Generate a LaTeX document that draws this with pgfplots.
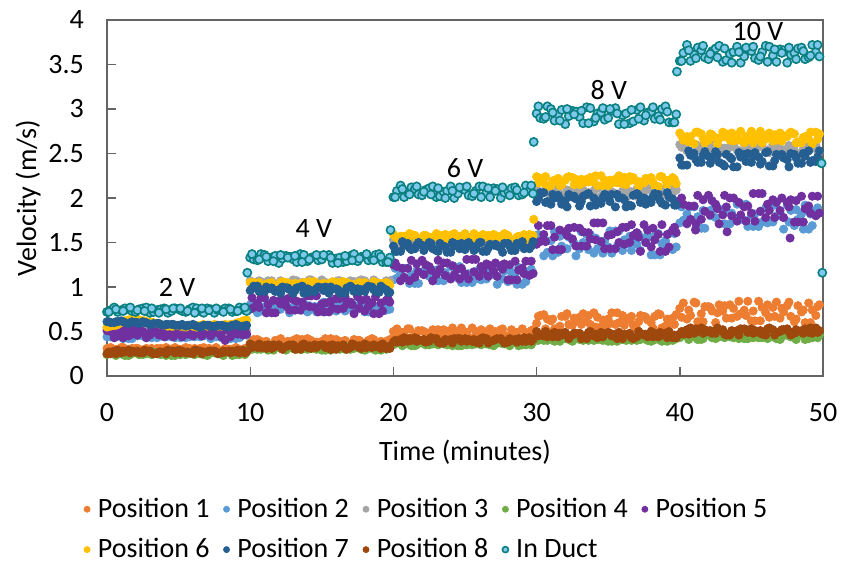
\documentclass[border=0pt]{standalone}
\usepackage{pgfplots}
\usepackage{pgfplotstable}
\pgfplotsset{compat=1.18}
\usepackage{fontspec}
\setmainfont{Carlito}

\definecolor{pone}{RGB}{237,125,49}
\definecolor{ptwo}{RGB}{91,155,213}
\definecolor{pthree}{RGB}{165,165,165}
\definecolor{pfour}{RGB}{112,173,71}
\definecolor{pfive}{RGB}{112,48,160}
\definecolor{psix}{RGB}{255,192,0}
\definecolor{pseven}{RGB}{37,94,145}
\definecolor{peight}{RGB}{158,72,14}
\definecolor{ductedge}{RGB}{10,128,128}
\definecolor{ductfill}{RGB}{125,200,235}
\definecolor{framegray}{RGB}{100,100,100}

\newcommand{\chartfont}{\fontsize{14}{17}\selectfont}

\pgfplotsset{
  dot/.style={only marks, mark=*, mark size=2.05pt, draw=#1, fill=#1},
}

% velocity readings (m/s) at each sensor position
\pgfplotstableread{
t p1 p2 p3 p4 p5 p6 p7 p8 d
0 0.31 0.44 0.54 0.24 0.51 0.55 0.61 0.25 0.72
0.25 0.32 0.44 0.54 0.26 0.50 0.56 0.60 0.25 0.74
0.5 0.29 0.46 0.51 0.27 0.43 0.57 0.60 0.28 0.77
0.75 0.29 0.47 0.49 0.25 0.45 0.58 0.61 0.29 0.72
1 0.32 0.47 0.49 0.25 0.49 0.60 0.62 0.26 0.74
1.25 0.28 0.45 0.53 0.23 0.53 0.62 0.60 0.27 0.76
1.5 0.30 0.42 0.54 0.23 0.45 0.63 0.59 0.29 0.75
1.75 0.31 0.42 0.50 0.26 0.47 0.64 0.61 0.28 0.73
2 0.31 0.46 0.52 0.26 0.53 0.64 0.60 0.27 0.72
2.25 0.30 0.47 0.55 0.24 0.51 0.63 0.59 0.26 0.75
2.5 0.28 0.45 0.54 0.24 0.50 0.62 0.61 0.26 0.76
2.75 0.31 0.43 0.53 0.25 0.43 0.60 0.60 0.28 0.77
3 0.30 0.47 0.50 0.26 0.46 0.61 0.58 0.28 0.71
3.25 0.29 0.46 0.51 0.27 0.49 0.60 0.59 0.25 0.72
3.5 0.31 0.43 0.53 0.25 0.52 0.59 0.59 0.25 0.74
3.75 0.31 0.45 0.54 0.24 0.52 0.58 0.58 0.27 0.75
4 0.29 0.48 0.51 0.27 0.44 0.57 0.57 0.27 0.76
4.25 0.30 0.48 0.50 0.26 0.46 0.56 0.58 0.29 0.71
4.5 0.30 0.44 0.55 0.23 0.49 0.56 0.58 0.28 0.73
4.75 0.32 0.43 0.52 0.23 0.49 0.57 0.57 0.26 0.76
5 0.28 0.45 0.50 0.25 0.47 0.57 0.57 0.29 0.75
5.25 0.28 0.46 0.51 0.27 0.44 0.56 0.58 0.28 0.73
5.5 0.32 0.43 0.53 0.24 0.53 0.55 0.56 0.26 0.72
5.75 0.31 0.44 0.55 0.25 0.53 0.57 0.57 0.26 0.75
6 0.30 0.47 0.51 0.26 0.45 0.56 0.58 0.25 0.77
6.25 0.29 0.47 0.50 0.26 0.48 0.55 0.56 0.29 0.76
6.5 0.31 0.44 0.55 0.25 0.51 0.57 0.55 0.28 0.73
6.75 0.32 0.45 0.54 0.24 0.50 0.58 0.57 0.27 0.71
7 0.29 0.46 0.52 0.23 0.48 0.56 0.57 0.27 0.76
7.25 0.30 0.42 0.52 0.26 0.45 0.57 0.56 0.28 0.75
7.5 0.31 0.48 0.51 0.26 0.50 0.58 0.56 0.28 0.71
7.75 0.29 0.47 0.53 0.25 0.51 0.56 0.57 0.25 0.74
8 0.28 0.43 0.54 0.25 0.44 0.56 0.57 0.26 0.74
8.25 0.31 0.44 0.49 0.26 0.40 0.58 0.56 0.27 0.76
8.5 0.30 0.46 0.49 0.27 0.52 0.57 0.55 0.28 0.76
8.75 0.28 0.48 0.54 0.23 0.48 0.58 0.57 0.28 0.72
9 0.32 0.42 0.53 0.24 0.49 0.59 0.58 0.27 0.73
9.25 0.30 0.43 0.53 0.24 0.52 0.60 0.56 0.26 0.77
9.5 0.29 0.47 0.54 0.26 0.46 0.62 0.56 0.29 0.75
9.75 0.31 0.46 0.51 0.27 0.47 0.63 0.57 0.27 0.73
10 0.37 0.80 1.07 0.32 0.75 1.05 0.96 0.36 1.33
10.25 0.41 0.79 1.04 0.33 0.77 1.05 1.01 0.34 1.31
10.5 0.41 0.71 1.06 0.30 0.82 1.02 1.01 0.32 1.30
10.75 0.39 0.73 1.06 0.30 0.88 1.00 0.96 0.32 1.37
11 0.38 0.78 1.02 0.33 0.88 1.00 0.95 0.34 1.36
11.25 0.34 0.82 1.07 0.29 0.80 1.04 0.98 0.35 1.29
11.5 0.34 0.73 1.07 0.31 0.71 1.05 0.99 0.31 1.33
11.75 0.40 0.76 1.02 0.32 0.71 1.01 0.95 0.33 1.35
12 0.40 0.82 1.04 0.32 0.84 1.03 0.97 0.35 1.27
12.25 0.36 0.80 1.06 0.31 0.86 1.06 1.00 0.30 1.32
12.5 0.36 0.79 1.05 0.29 0.79 1.05 0.99 0.33 1.35
12.75 0.38 0.71 1.05 0.32 0.74 1.04 0.97 0.35 1.34
13 0.40 0.75 1.08 0.31 0.86 1.01 0.93 0.35 1.31
13.25 0.42 0.78 1.07 0.30 0.84 1.02 0.99 0.32 1.28
13.5 0.38 0.81 1.04 0.32 0.74 1.04 1.00 0.30 1.37
13.75 0.36 0.81 1.03 0.32 0.79 1.05 0.93 0.36 1.36
14 0.42 0.72 1.06 0.30 0.90 1.02 0.98 0.32 1.29
14.25 0.40 0.75 1.08 0.31 0.90 1.01 0.96 0.31 1.33
14.5 0.35 0.78 1.03 0.31 0.77 1.06 0.95 0.35 1.34
14.75 0.35 0.78 1.04 0.33 0.72 1.03 1.00 0.34 1.30
15 0.39 0.75 1.08 0.29 0.81 1.01 0.99 0.35 1.31
15.25 0.42 0.72 1.05 0.29 0.82 1.02 1.00 0.32 1.35
15.5 0.36 0.83 1.04 0.33 0.72 1.04 0.93 0.34 1.36
15.75 0.37 0.83 1.03 0.32 0.76 1.06 0.98 0.35 1.27
16 0.41 0.73 1.06 0.31 0.87 1.02 0.98 0.30 1.32
16.25 0.39 0.76 1.07 0.30 0.87 1.01 0.93 0.33 1.33
16.5 0.38 0.81 1.03 0.32 0.76 1.06 0.94 0.35 1.28
16.75 0.36 0.79 1.04 0.33 0.81 1.05 0.99 0.30 1.29
17 0.34 0.76 1.07 0.30 0.83 1.03 1.01 0.32 1.35
17.25 0.41 0.73 1.06 0.31 0.70 1.03 0.95 0.35 1.37
17.5 0.40 0.79 1.05 0.32 0.89 1.02 0.98 0.33 1.29
17.75 0.38 0.81 1.08 0.30 0.85 1.04 0.97 0.31 1.34
18 0.37 0.72 1.07 0.29 0.73 1.05 0.95 0.36 1.34
18.25 0.40 0.72 1.03 0.32 0.78 1.00 1.01 0.34 1.30
18.5 0.42 0.82 1.02 0.31 0.82 1.00 1.00 0.32 1.32
18.75 0.34 0.77 1.06 0.29 0.89 1.05 0.95 0.33 1.36
19 0.35 0.78 1.04 0.33 0.70 1.04 0.94 0.34 1.37
19.25 0.37 0.82 1.02 0.31 0.73 1.04 0.99 0.36 1.28
19.5 0.39 0.74 1.07 0.30 0.85 1.05 0.97 0.31 1.28
19.75 0.41 0.75 1.07 0.32 0.83 1.02 0.94 0.31 1.33
20 0.50 1.08 1.53 0.35 1.25 1.59 1.46 0.38 2.01
20.25 0.53 1.10 1.52 0.37 1.23 1.54 1.40 0.38 2.08
20.5 0.44 1.15 1.49 0.38 1.07 1.57 1.40 0.41 2.14
20.75 0.46 1.21 1.46 0.36 1.11 1.57 1.47 0.43 2.01
21 0.53 1.21 1.46 0.36 1.21 1.52 1.49 0.39 2.06
21.25 0.43 1.13 1.51 0.34 1.30 1.59 1.42 0.40 2.12
21.5 0.47 1.04 1.52 0.34 1.11 1.58 1.43 0.43 2.10
21.75 0.51 1.04 1.47 0.37 1.17 1.52 1.50 0.41 2.04
22 0.51 1.17 1.50 0.37 1.30 1.54 1.47 0.40 2.03
22.25 0.49 1.19 1.54 0.35 1.25 1.58 1.45 0.38 2.09
22.5 0.42 1.12 1.53 0.35 1.23 1.56 1.50 0.39 2.11
22.75 0.52 1.07 1.51 0.36 1.07 1.56 1.43 0.42 2.13
23 0.49 1.19 1.48 0.37 1.14 1.60 1.41 0.42 2.01
23.25 0.44 1.17 1.48 0.38 1.20 1.58 1.49 0.37 2.02
23.5 0.52 1.07 1.51 0.36 1.27 1.54 1.46 0.37 2.07
23.75 0.50 1.12 1.53 0.35 1.27 1.54 1.39 0.40 2.08
24 0.46 1.23 1.49 0.38 1.09 1.58 1.39 0.41 2.13
24.25 0.47 1.23 1.47 0.37 1.14 1.60 1.46 0.42 2.00
24.5 0.49 1.10 1.54 0.34 1.20 1.53 1.48 0.42 2.05
24.75 0.54 1.05 1.50 0.34 1.21 1.55 1.49 0.39 2.11
25 0.43 1.14 1.47 0.36 1.15 1.60 1.42 0.42 2.09
25.25 0.43 1.15 1.49 0.38 1.09 1.56 1.50 0.41 2.03
25.5 0.54 1.05 1.52 0.35 1.31 1.55 1.46 0.39 2.02
25.75 0.50 1.09 1.54 0.36 1.31 1.53 1.43 0.38 2.08
26 0.47 1.20 1.48 0.37 1.12 1.57 1.50 0.37 2.13
26.25 0.45 1.20 1.48 0.37 1.18 1.59 1.40 0.43 2.13
26.5 0.50 1.09 1.54 0.36 1.26 1.54 1.40 0.42 2.06
26.75 0.53 1.14 1.52 0.35 1.24 1.54 1.48 0.39 2.01
27 0.44 1.16 1.50 0.34 1.18 1.59 1.47 0.40 2.11
27.25 0.48 1.03 1.50 0.37 1.12 1.57 1.46 0.42 2.10
27.5 0.52 1.22 1.48 0.37 1.24 1.56 1.44 0.42 2.00
27.75 0.46 1.18 1.52 0.36 1.26 1.60 1.49 0.37 2.06
28 0.43 1.06 1.52 0.36 1.08 1.58 1.49 0.38 2.08
28.25 0.52 1.11 1.46 0.37 1.08 1.53 1.41 0.40 2.11
28.5 0.48 1.15 1.46 0.38 1.29 1.52 1.41 0.41 2.12
28.75 0.42 1.22 1.53 0.34 1.19 1.57 1.47 0.42 2.03
29 0.53 1.03 1.51 0.35 1.21 1.55 1.51 0.39 2.04
29.25 0.49 1.06 1.51 0.35 1.29 1.52 1.44 0.39 2.14
29.5 0.46 1.18 1.53 0.37 1.13 1.59 1.43 0.43 2.08
29.75 0.52 1.16 1.48 0.38 1.15 1.58 1.51 0.41 2.05
30 0.59 1.56 2.10 0.42 1.48 2.24 1.96 0.50 2.95
30.25 0.68 1.53 2.04 0.43 1.51 2.22 2.06 0.47 2.90
30.5 0.69 1.35 2.07 0.40 1.59 2.17 2.06 0.45 2.89
30.75 0.64 1.39 2.07 0.40 1.69 2.13 1.96 0.44 3.03
31 0.62 1.52 2.01 0.43 1.69 2.14 1.93 0.47 3.00
31.25 0.53 1.62 2.10 0.39 1.56 2.20 2.00 0.49 2.87
31.5 0.54 1.39 2.09 0.41 1.42 2.22 2.03 0.44 2.94
31.75 0.67 1.46 2.02 0.42 1.42 2.15 1.93 0.46 2.99
32 0.67 1.62 2.04 0.42 1.62 2.20 1.97 0.49 2.83
32.25 0.58 1.56 2.08 0.41 1.66 2.24 2.04 0.42 2.92
32.5 0.57 1.53 2.06 0.39 1.54 2.23 2.01 0.46 2.98
32.75 0.62 1.35 2.06 0.42 1.46 2.21 1.99 0.48 2.97
33 0.66 1.43 2.11 0.41 1.66 2.15 1.91 0.48 2.91
33.25 0.70 1.50 2.09 0.40 1.62 2.17 2.02 0.45 2.84
33.5 0.61 1.59 2.04 0.42 1.46 2.21 2.04 0.42 3.02
33.75 0.58 1.59 2.03 0.42 1.54 2.23 1.91 0.50 3.01
34 0.71 1.38 2.08 0.40 1.72 2.18 2.00 0.45 2.86
34.25 0.66 1.43 2.11 0.41 1.72 2.14 1.96 0.43 2.95
34.5 0.55 1.50 2.02 0.41 1.51 2.25 1.94 0.49 2.96
34.75 0.55 1.52 2.05 0.43 1.43 2.20 2.04 0.47 2.88
35 0.64 1.45 2.11 0.39 1.58 2.14 2.02 0.49 2.90
35.25 0.71 1.38 2.07 0.39 1.59 2.17 2.04 0.45 2.98
35.5 0.58 1.63 2.05 0.43 1.43 2.21 1.90 0.47 3.01
35.75 0.60 1.63 2.02 0.42 1.50 2.25 2.00 0.49 2.83
36 0.68 1.41 2.08 0.41 1.67 2.16 2.00 0.42 2.93
36.25 0.65 1.48 2.10 0.40 1.67 2.15 1.90 0.46 2.95
36.5 0.63 1.57 2.03 0.42 1.50 2.24 1.92 0.48 2.84
36.75 0.57 1.55 2.04 0.43 1.58 2.23 2.03 0.42 2.86
37 0.53 1.48 2.10 0.40 1.61 2.19 2.05 0.44 2.99
37.25 0.68 1.41 2.08 0.41 1.40 2.18 1.95 0.48 3.02
37.5 0.67 1.55 2.07 0.42 1.70 2.17 2.00 0.46 2.87
37.75 0.63 1.57 2.11 0.40 1.64 2.21 1.98 0.44 2.96
38 0.60 1.36 2.09 0.39 1.45 2.23 1.95 0.50 2.97
38.25 0.67 1.36 2.03 0.42 1.53 2.14 2.05 0.48 2.89
38.5 0.70 1.60 2.02 0.41 1.59 2.13 2.04 0.44 2.92
38.75 0.54 1.49 2.07 0.39 1.70 2.24 1.94 0.46 3.00
39 0.56 1.52 2.05 0.43 1.40 2.20 1.92 0.48 3.03
39.25 0.59 1.60 2.01 0.41 1.45 2.20 2.01 0.50 2.85
39.5 0.65 1.42 2.10 0.40 1.64 2.23 1.99 0.43 2.85
39.75 0.69 1.45 2.09 0.42 1.61 2.16 1.92 0.43 2.94
40 0.76 1.72 2.60 0.43 1.97 2.73 2.45 0.47 3.54
40.25 0.82 1.75 2.58 0.46 1.93 2.65 2.37 0.47 3.63
40.5 0.64 1.82 2.53 0.46 1.71 2.69 2.37 0.52 3.72
40.75 0.68 1.90 2.49 0.45 1.76 2.69 2.48 0.54 3.54
41 0.83 1.90 2.50 0.44 1.91 2.61 2.50 0.48 3.61
41.25 0.61 1.79 2.56 0.41 2.03 2.74 2.40 0.50 3.69
41.5 0.70 1.66 2.58 0.41 1.76 2.72 2.40 0.54 3.66
41.75 0.78 1.66 2.51 0.46 1.85 2.62 2.52 0.52 3.58
42 0.78 1.85 2.56 0.46 2.03 2.65 2.47 0.50 3.56
42.25 0.73 1.87 2.60 0.43 1.97 2.71 2.44 0.48 3.65
42.5 0.60 1.78 2.59 0.42 1.93 2.68 2.52 0.48 3.68
42.75 0.80 1.71 2.57 0.44 1.71 2.67 2.40 0.52 3.71
43 0.73 1.87 2.51 0.45 1.81 2.74 2.38 0.52 3.53
43.25 0.65 1.85 2.53 0.47 1.90 2.72 2.49 0.46 3.55
43.5 0.80 1.71 2.57 0.44 2.00 2.65 2.46 0.46 3.62
43.75 0.76 1.78 2.59 0.43 2.00 2.64 2.35 0.50 3.64
44 0.67 1.93 2.54 0.47 1.74 2.71 2.35 0.51 3.70
44.25 0.70 1.93 2.50 0.45 1.81 2.75 2.46 0.53 3.52
44.5 0.74 1.75 2.61 0.42 1.90 2.62 2.49 0.53 3.59
44.75 0.84 1.68 2.56 0.42 1.91 2.66 2.50 0.49 3.67
45 0.62 1.80 2.50 0.45 1.83 2.75 2.40 0.53 3.65
45.25 0.62 1.82 2.53 0.47 1.74 2.69 2.51 0.51 3.57
45.5 0.84 1.68 2.57 0.43 2.05 2.67 2.46 0.49 3.55
45.75 0.77 1.73 2.61 0.43 2.05 2.62 2.41 0.47 3.64
46 0.71 1.89 2.52 0.46 1.78 2.70 2.51 0.46 3.71
46.25 0.66 1.89 2.51 0.45 1.86 2.73 2.36 0.54 3.70
46.5 0.77 1.73 2.60 0.44 1.98 2.64 2.36 0.52 3.60
46.75 0.83 1.80 2.59 0.42 1.95 2.65 2.49 0.49 3.53
47 0.65 1.83 2.55 0.41 1.86 2.73 2.48 0.50 3.67
47.25 0.72 1.65 2.54 0.46 1.78 2.70 2.45 0.52 3.66
47.5 0.79 1.92 2.53 0.46 1.95 2.69 2.43 0.53 3.52
47.75 0.67 1.86 2.57 0.44 1.98 2.74 2.50 0.46 3.61
48 0.61 1.69 2.59 0.43 1.73 2.72 2.49 0.48 3.63
48.25 0.79 1.76 2.50 0.46 1.73 2.63 2.39 0.50 3.68
48.5 0.72 1.82 2.49 0.47 2.02 2.62 2.39 0.51 3.69
48.75 0.60 1.92 2.60 0.41 1.88 2.69 2.47 0.53 3.56
49 0.82 1.65 2.56 0.42 1.91 2.66 2.53 0.49 3.58
49.25 0.74 1.69 2.56 0.43 2.02 2.61 2.42 0.48 3.72
49.5 0.68 1.86 2.59 0.45 1.80 2.74 2.41 0.54 3.64
49.75 0.80 1.83 2.52 0.46 1.83 2.72 2.53 0.51 3.59
0.125 0.29 0.47 0.53 0.26 0.52 0.56 0.61 0.27 0.72
0.625 0.30 0.44 0.50 0.23 0.49 0.57 0.61 0.25 0.75
1.125 0.32 0.42 0.55 0.25 0.43 0.61 0.61 0.28 0.73
1.625 0.28 0.47 0.51 0.24 0.51 0.63 0.60 0.26 0.77
2.125 0.31 0.45 0.54 0.27 0.46 0.63 0.60 0.28 0.74
2.625 0.30 0.47 0.49 0.26 0.48 0.62 0.60 0.29 0.73
3.125 0.31 0.43 0.52 0.24 0.53 0.60 0.58 0.26 0.76
3.625 0.29 0.46 0.54 0.26 0.46 0.59 0.59 0.27 0.71
4.125 0.32 0.44 0.51 0.23 0.50 0.57 0.58 0.25 0.75
4.625 0.29 0.48 0.53 0.25 0.44 0.56 0.58 0.28 0.76
5.125 0.30 0.43 0.50 0.24 0.53 0.56 0.57 0.26 0.76
5.625 0.28 0.46 0.55 0.27 0.47 0.56 0.57 0.27 0.73
6.125 0.31 0.44 0.52 0.24 0.50 0.57 0.57 0.29 0.71
6.625 0.29 0.48 0.53 0.26 0.45 0.56 0.56 0.25 0.76
7.125 0.31 0.45 0.50 0.25 0.52 0.57 0.57 0.28 0.74
7.625 0.32 0.44 0.54 0.26 0.49 0.57 0.56 0.27 0.76
8.125 0.29 0.47 0.49 0.23 0.51 0.57 0.56 0.28 0.72
8.625 0.30 0.42 0.52 0.27 0.44 0.58 0.56 0.26 0.75
9.125 0.28 0.46 0.54 0.25 0.47 0.60 0.57 0.29 0.73
9.625 0.31 0.47 0.51 0.24 0.52 0.62 0.56 0.26 0.77
10.125 0.40 0.81 1.04 0.30 0.88 1.02 0.98 0.32 1.37
10.625 0.34 0.78 1.07 0.31 0.77 1.05 0.95 0.36 1.31
11.125 0.39 0.71 1.05 0.33 0.71 1.03 1.00 0.31 1.34
11.625 0.35 0.81 1.02 0.29 0.85 1.00 0.97 0.35 1.29
12.125 0.42 0.75 1.07 0.32 0.81 1.05 0.93 0.33 1.36
12.625 0.39 0.77 1.03 0.31 0.87 1.01 0.99 0.34 1.33
13.125 0.36 0.82 1.06 0.32 0.74 1.04 0.96 0.30 1.35
13.625 0.41 0.74 1.05 0.30 0.83 1.03 1.01 0.35 1.28
14.125 0.35 0.79 1.08 0.33 0.78 1.06 0.94 0.34 1.31
14.625 0.38 0.72 1.03 0.30 0.90 1.01 0.98 0.32 1.36
15.125 0.37 0.83 1.06 0.31 0.72 1.04 0.96 0.35 1.36
15.625 0.42 0.76 1.04 0.29 0.84 1.02 1.00 0.30 1.33
16.125 0.36 0.79 1.07 0.32 0.75 1.05 0.97 0.34 1.27
16.625 0.40 0.73 1.05 0.30 0.89 1.03 0.93 0.31 1.35
17.125 0.38 0.81 1.02 0.32 0.80 1.00 0.99 0.36 1.30
17.625 0.40 0.78 1.07 0.33 0.76 1.05 0.95 0.34 1.32
18.125 0.34 0.80 1.04 0.30 0.86 1.02 0.99 0.32 1.37
18.625 0.41 0.72 1.08 0.31 0.70 1.06 0.97 0.35 1.30
19.125 0.39 0.75 1.03 0.29 0.82 1.01 1.01 0.31 1.34
19.625 0.36 0.82 1.06 0.32 0.87 1.04 0.94 0.33 1.28
20.125 0.45 1.21 1.51 0.37 1.27 1.57 1.40 0.40 2.01
20.625 0.49 1.10 1.47 0.34 1.21 1.53 1.51 0.38 2.10
21.125 0.53 1.04 1.54 0.36 1.07 1.60 1.44 0.42 2.04
21.625 0.43 1.18 1.49 0.35 1.26 1.55 1.47 0.39 2.13
22.125 0.50 1.14 1.52 0.38 1.14 1.58 1.41 0.41 2.07
22.625 0.47 1.20 1.46 0.37 1.19 1.52 1.49 0.43 2.04
23.125 0.52 1.07 1.50 0.35 1.30 1.56 1.40 0.38 2.11
23.625 0.44 1.16 1.53 0.37 1.13 1.59 1.45 0.41 2.00
24.125 0.54 1.11 1.48 0.34 1.24 1.54 1.50 0.37 2.08
24.625 0.46 1.23 1.51 0.36 1.09 1.57 1.43 0.42 2.12
25.125 0.49 1.05 1.47 0.35 1.31 1.53 1.47 0.39 2.13
25.625 0.43 1.17 1.54 0.38 1.17 1.60 1.41 0.41 2.05
26.125 0.52 1.08 1.50 0.35 1.23 1.56 1.50 0.42 2.01
26.625 0.46 1.22 1.52 0.37 1.12 1.58 1.44 0.37 2.11
27.125 0.50 1.13 1.48 0.36 1.27 1.54 1.48 0.41 2.08
27.625 0.53 1.09 1.52 0.37 1.20 1.58 1.39 0.40 2.12
28.125 0.44 1.19 1.46 0.34 1.25 1.52 1.46 0.42 2.03
28.625 0.49 1.03 1.50 0.38 1.08 1.56 1.49 0.38 2.09
29.125 0.42 1.15 1.53 0.36 1.15 1.59 1.43 0.43 2.06
29.625 0.51 1.20 1.49 0.35 1.29 1.55 1.46 0.39 2.14
30.125 0.67 1.59 2.05 0.40 1.69 2.17 2.00 0.45 3.03
30.625 0.53 1.52 2.10 0.41 1.51 2.24 1.95 0.50 2.91
31.125 0.64 1.35 2.06 0.43 1.42 2.19 2.04 0.44 2.96
31.625 0.56 1.57 2.02 0.39 1.64 2.14 1.99 0.48 2.87
32.125 0.70 1.43 2.09 0.42 1.58 2.23 1.90 0.46 3.00
32.625 0.65 1.49 2.03 0.41 1.67 2.15 2.02 0.48 2.94
33.125 0.58 1.62 2.08 0.42 1.46 2.21 1.96 0.42 2.98
33.625 0.68 1.42 2.06 0.40 1.61 2.18 2.05 0.49 2.84
34.125 0.55 1.55 2.11 0.43 1.53 2.25 1.92 0.47 2.90
34.625 0.63 1.38 2.02 0.40 1.72 2.14 2.00 0.44 3.01
35.125 0.59 1.63 2.07 0.41 1.43 2.20 1.96 0.48 3.00
35.625 0.71 1.46 2.04 0.39 1.62 2.17 2.04 0.42 2.95
36.125 0.57 1.53 2.10 0.42 1.48 2.23 1.98 0.47 2.83
36.625 0.67 1.41 2.07 0.40 1.70 2.20 1.91 0.43 2.99
37.125 0.61 1.59 2.01 0.42 1.56 2.13 2.03 0.50 2.89
37.625 0.66 1.50 2.09 0.43 1.50 2.22 1.93 0.47 2.93
38.125 0.54 1.56 2.05 0.40 1.66 2.18 2.01 0.44 3.02
38.625 0.69 1.36 2.11 0.41 1.40 2.24 1.97 0.49 2.88
39.125 0.64 1.45 2.03 0.39 1.59 2.15 2.06 0.43 2.97
39.625 0.58 1.60 2.08 0.42 1.67 2.21 1.92 0.46 2.85
40.125 0.66 1.90 2.57 0.46 2.00 2.70 2.37 0.50 3.54
40.625 0.74 1.75 2.51 0.41 1.91 2.63 2.53 0.47 3.66
41.125 0.82 1.66 2.60 0.45 1.71 2.74 2.43 0.53 3.57
41.625 0.61 1.86 2.54 0.42 1.98 2.67 2.48 0.48 3.71
42.125 0.77 1.80 2.58 0.47 1.81 2.72 2.39 0.51 3.62
42.625 0.71 1.89 2.49 0.45 1.88 2.61 2.49 0.54 3.58
43.125 0.79 1.71 2.56 0.43 2.03 2.69 2.36 0.47 3.68
43.625 0.65 1.83 2.59 0.46 1.80 2.73 2.44 0.51 3.52
44.125 0.84 1.76 2.53 0.42 1.95 2.65 2.51 0.46 3.64
44.625 0.68 1.93 2.56 0.44 1.74 2.69 2.41 0.52 3.69
45.125 0.73 1.68 2.50 0.43 2.05 2.62 2.47 0.48 3.70
45.625 0.62 1.85 2.61 0.47 1.85 2.75 2.38 0.51 3.59
46.125 0.80 1.72 2.54 0.42 1.93 2.67 2.52 0.53 3.53
46.625 0.67 1.92 2.57 0.46 1.78 2.71 2.42 0.46 3.67
47.125 0.76 1.79 2.51 0.44 2.00 2.64 2.49 0.52 3.63
47.625 0.83 1.73 2.59 0.45 1.90 2.72 2.35 0.50 3.69
48.125 0.64 1.87 2.50 0.41 1.97 2.62 2.45 0.52 3.56
48.625 0.74 1.65 2.55 0.46 1.73 2.68 2.50 0.48 3.65
49.125 0.60 1.82 2.60 0.45 1.83 2.74 2.40 0.54 3.60
49.625 0.78 1.89 2.53 0.43 2.02 2.66 2.46 0.49 3.72
9.8 nan nan nan nan nan nan nan nan 1.16
19.8 nan nan nan nan nan nan nan nan 1.64
29.8 nan nan nan nan nan 1.76 nan nan 2.63
39.8 nan nan nan nan nan nan nan nan 3.42
41.1 nan nan nan nan 1.64 nan nan nan nan
43.3 nan nan nan nan 1.62 nan nan nan nan
47.7 nan nan nan nan 1.55 nan nan nan nan
49.9 nan nan nan nan nan nan nan nan 2.39
49.95 nan nan nan nan nan nan nan nan 1.16
}\velocity

\begin{document}
\begin{tikzpicture}
\path[use as bounding box] (-53.5pt,-95pt) rectangle (368.5pt,188pt);
\begin{axis}[
  at={(0pt,0pt)}, anchor=south west,
  scale only axis, width=358pt, height=178pt,
  xmin=0, xmax=50, ymin=0, ymax=4,
  clip=false,
  xtick={0,10,20,30,40,50},
  ytick={0,0.5,1,1.5,2,2.5,3,3.5,4},
  tick pos=left, tick align=inside, major tick length=4.5pt,
  axis line style={draw=framegray, line width=0.7pt},
  major tick style={draw=framegray, line width=0.7pt},
  /pgf/number format/assume math mode=true,
  tick label style={font=\chartfont},
  yticklabel style={xshift=-8pt},
  xticklabel style={yshift=-10pt},
  xlabel={Time (minutes)}, ylabel={Velocity (m/s)},
  every axis x label/.style={at={(axis description cs:0.5,-0.2135)},anchor=center,font=\chartfont},
  every axis y label/.style={at={(axis description cs:-0.11,0.5)},rotate=90,anchor=center,font=\chartfont},
  legend columns=5,
  legend cell align=left,
  legend style={draw=none, fill=none, inner sep=0pt, outer sep=0pt,
    at={(-0.032,-0.431)}, anchor=west, font=\chartfont,
    nodes={inner sep=0pt}, row sep=9pt,
    /tikz/every odd column/.style={column sep=3.9pt},
    /tikz/every even column/.style={column sep=7pt}},
  legend image code/.code={\draw[#1,mark size=1.5pt] plot coordinates {(0pt,0pt)};},
]

\addplot[dot=pone]   table[x=t, y=p1] {\velocity};
\addplot[dot=ptwo]   table[x=t, y=p2] {\velocity};
\addplot[dot=pthree] table[x=t, y=p3] {\velocity};
\addplot[dot=pfour]  table[x=t, y=p4] {\velocity};
\addplot[dot=pfive]  table[x=t, y=p5] {\velocity};
\addplot[dot=psix]   table[x=t, y=p6] {\velocity};
\addplot[dot=pseven] table[x=t, y=p7] {\velocity};
\addplot[dot=peight] table[x=t, y=p8] {\velocity};
\addplot[only marks, mark=*, mark size=2.05pt, draw=ductedge, fill=ductfill,
  mark options={line width=0.8pt}] table[x=t, y=d] {\velocity};

\legend{Position 1,Position 2,Position 3,Position 4,Position 5,Position 6,Position 7,Position 8,In Duct}

\node[font=\chartfont] at (axis cs:4.9,0.99) {2 V};
\node[font=\chartfont] at (axis cs:14.45,1.66) {4 V};
\node[font=\chartfont] at (axis cs:25.0,2.34) {6 V};
\node[font=\chartfont] at (axis cs:35.05,3.21) {8 V};
\node[font=\chartfont] at (axis cs:45.46,3.87) {10 V};
\end{axis}
\end{tikzpicture}
\end{document}
